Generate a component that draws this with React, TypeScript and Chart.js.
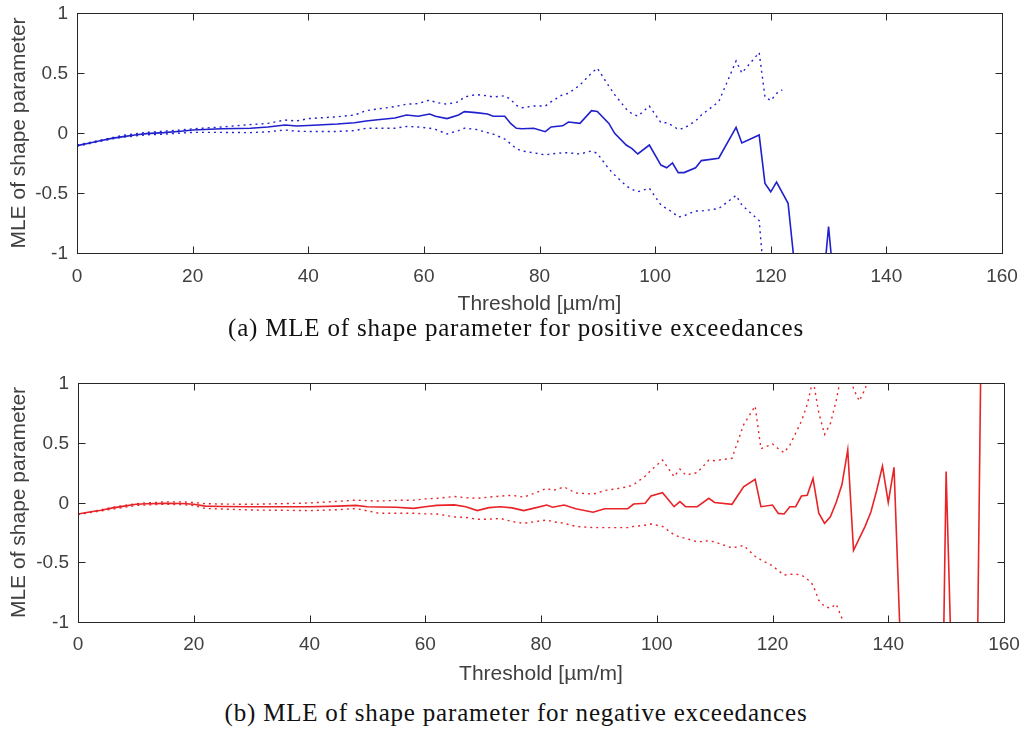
import { useEffect, useRef } from 'react';
import { Chart, registerables } from 'chart.js';

Chart.register(...registerables);

// ---------- axis ticks ----------
const xTicks = [0, 20, 40, 60, 80, 100, 120, 140, 160];
const xTickLabels = ['0', '20', '40', '60', '80', '100', '120', '140', '160'];
const yTicks = [-1, -0.5, 0, 0.5, 1];
const yTickLabels = ['-1', '-0.5', '0', '0.5', '1'];

const xTitle = 'Threshold [\u00b5m/m]';
const yTitle = 'MLE of shape parameter';
const captionA = '(a) MLE of shape parameter for positive exceedances';
const captionB = '(b) MLE of shape parameter for negative exceedances';

// ---------- (a) positive exceedances ----------
const posThreshold = [
  0, 2, 4, 6, 8, 10, 12, 15, 18, 20,
  25, 30, 33, 36, 38, 40, 45, 48, 50, 52,
  55, 57, 59, 61, 62, 64, 66, 67, 69, 71,
  72, 74, 75, 76, 77, 79, 81, 82, 84, 85,
  87, 89, 90, 92, 93, 95, 96, 97, 99, 101,
  102, 103, 104, 105, 107, 108, 111, 114, 115, 118,
  119, 120, 121, 122, 123, 124, 125, 129, 130, 131,
];
const posMle = [
  -0.105, -0.085, -0.065, -0.045, -0.03, -0.017, -0.005, 0.003, 0.015, 0.025,
  0.035, 0.04, 0.05, 0.067, 0.058, 0.063, 0.075, 0.086, 0.1, 0.11,
  0.125, 0.15, 0.14, 0.158, 0.14, 0.12, 0.15, 0.178, 0.17, 0.158,
  0.14, 0.14, 0.08, 0.039, 0.035, 0.04, 0.011, 0.05, 0.06, 0.092,
  0.08, 0.186, 0.18, 0.08, -0.003, -0.1, -0.13, -0.175, -0.1, -0.267,
  -0.29, -0.25, -0.33, -0.33, -0.29, -0.23, -0.21, 0.047, -0.083, -0.017,
  -0.42, -0.49, -0.41, null, -0.586, -1.05, -2.5, -1.3, -0.78, -1.3,
];
const posUpper = [
  -0.1, -0.08, -0.06, -0.04, -0.02, -0.008, 0.005, 0.015, 0.025, 0.035,
  0.05, 0.07, 0.08, 0.108, 0.1, 0.12, 0.135, 0.15, 0.186, 0.2,
  0.22, 0.24, 0.245, 0.275, 0.255, 0.24, 0.26, 0.3, 0.32, 0.31,
  0.3, 0.31, 0.28, 0.23, 0.21, 0.225, 0.225, 0.26, 0.32, 0.33,
  0.4, 0.5, 0.54, 0.39, 0.32, 0.2, 0.16, 0.14, 0.225, 0.086,
  0.086, 0.06, 0.03, 0.04, 0.1, 0.15, 0.26, 0.6, 0.5, 0.67,
  0.3, 0.27, 0.33, 0.36, null, null, null, null, null, null,
];
const posLower = [
  -0.11, -0.09, -0.07, -0.05, -0.035, -0.025, -0.015, -0.01, 0.0, 0.005,
  0.005, 0.003, 0.01, 0.025, 0.015, 0.013, 0.013, 0.02, 0.04, 0.04,
  0.04, 0.055, 0.05, 0.04, 0.03, -0.008, 0.02, 0.04, 0.03, 0.003,
  -0.01, -0.05, -0.09, -0.13, -0.15, -0.165, -0.183, -0.175, -0.165, -0.165,
  -0.175, -0.15, -0.17, -0.3, -0.35, -0.44, -0.47, -0.49, -0.46, -0.6,
  -0.63, -0.66, -0.7, -0.69, -0.65, -0.65, -0.63, -0.52, -0.6, -0.73,
  -1.3, null, null, null, null, null, null, null, null, null,
];

// ---------- (b) negative exceedances ----------
const negThreshold = [
  0, 2, 4, 6, 8, 10, 12, 15, 18, 20,
  22, 25, 30, 35, 40, 45, 48, 50, 52, 55,
  58, 60, 62, 65, 67, 69, 71, 73, 75, 77,
  79, 81, 82, 84, 86, 89, 91, 93, 95, 96,
  98, 99, 101, 103, 104, 105, 107, 109, 110, 113,
  115, 117, 118, 120, 121, 122, 123, 124, 125, 126,
  127, 128, 129, 130, 131, 132, 133, 134, 135, 136,
  137, 138, 139, 140, 141, 142, 149, 150, 151, 155,
  156,
];
const negMle = [
  -0.096, -0.08, -0.065, -0.045, -0.03, -0.015, -0.01, -0.007, -0.008, -0.015,
  -0.03, -0.033, -0.035, -0.035, -0.035, -0.03, -0.024, -0.035, -0.038, -0.04,
  -0.049, -0.035, -0.024, -0.02, -0.035, -0.068, -0.043, -0.035, -0.045, -0.068,
  -0.045, -0.021, -0.04, -0.021, -0.052, -0.082, -0.052, -0.052, -0.052, -0.013,
  -0.007, 0.054, 0.082, -0.035, 0.007, -0.035, -0.035, 0.035, 0.0, -0.015,
  0.132, 0.194, -0.035, -0.021, -0.091, -0.096, -0.035, -0.035, 0.054, 0.06,
  0.2, -0.09, -0.174, -0.12, 0.0, 0.15, 0.44, -0.4, -0.3, -0.2,
  -0.08, 0.1, 0.305, 0.0, 0.294, -1.05, -3, 0.26, -1.5, -3,
  1.2,
];
const negUpper = [
  -0.1, -0.08, -0.06, -0.04, -0.025, -0.01, -0.003, 0.005, 0.005, 0.0,
  -0.01, -0.013, -0.015, -0.01, -0.004, 0.01, 0.02, 0.015, 0.012, 0.018,
  0.02, 0.03, 0.035, 0.05, 0.04, 0.035, 0.045, 0.054, 0.06, 0.045,
  0.08, 0.12, 0.1, 0.13, 0.08, 0.07, 0.1, 0.115, 0.132, 0.15,
  0.22, 0.27, 0.355, 0.216, 0.28, 0.23, 0.25, 0.355, 0.35, 0.37,
  0.65, 0.807, 0.45, 0.49, 0.45, 0.417, 0.48, 0.58, 0.68, 0.82,
  1.03, 0.75, 0.57, 0.66, 0.85, 1.1, 1.2, 0.95, 0.85, 0.95,
  1.1, null, null, null, null, null, null, null, null, null,
  null,
];
const negLower = [
  -0.1, -0.085, -0.07, -0.055, -0.04, -0.025, -0.02, -0.015, -0.018, -0.025,
  -0.05, -0.055, -0.063, -0.065, -0.068, -0.06, -0.05, -0.07, -0.09, -0.09,
  -0.09, -0.095, -0.096, -0.12, -0.125, -0.14, -0.14, -0.133, -0.16, -0.174,
  -0.16, -0.146, -0.16, -0.174, -0.2, -0.21, -0.21, -0.21, -0.21, -0.2,
  -0.19, -0.18, -0.2, -0.27, -0.29, -0.3, -0.33, -0.32, -0.33, -0.38,
  -0.36, -0.45, -0.48, -0.53, -0.57, -0.607, -0.6, -0.6, -0.607, -0.64,
  -0.69, -0.82, -0.87, -0.885, -0.85, -0.97, -1.2, null, null, null,
  null, null, null, null, null, null, null, null, null, null,
  null,
];

const BLUE = 'rgb(32, 32, 205)';
const RED = 'rgb(232, 36, 40)';
const TEXT = '#404040';
const FONT = "'Liberation Sans', Arial, sans-serif";

type PanelProps = {
  top: number;
  thr: number[];
  mle: (number | null)[];
  upper: (number | null)[];
  lower: (number | null)[];
  color: string;
  areaLeft: number;
  areaRight: number;
  areaTop: number;
  areaBottom: number;
  xLabelOffset: number;
  height: number;
};

function makeFramePlugin(xLabelOffset: number) {
  return {
    id: 'frameTicks',
    afterDatasetsDraw(chart: any) {
      const { ctx, chartArea, scales } = chart;
      const { left, right, top, bottom } = chartArea;
      const x = scales.x;
      const y = scales.y;
      const L = Math.round(left) + 0.5;
      const R = Math.round(right) + 0.5;
      const T = Math.round(top) + 0.5;
      const B = Math.round(bottom) + 0.5;
      ctx.save();
      ctx.strokeStyle = '#262626';
      ctx.lineWidth = 1;
      ctx.beginPath();
      const tl = 7;
      xTicks.forEach((v) => {
        const px = Math.round(x.getPixelForValue(v)) + 0.5;
        ctx.moveTo(px, B);
        ctx.lineTo(px, B - tl);
        ctx.moveTo(px, T);
        ctx.lineTo(px, T + tl);
      });
      yTicks.forEach((v) => {
        const py = Math.round(y.getPixelForValue(v)) + 0.5;
        ctx.moveTo(L, py);
        ctx.lineTo(L + tl, py);
        ctx.moveTo(R, py);
        ctx.lineTo(R - tl, py);
      });
      ctx.stroke();
      ctx.strokeRect(L, T, R - L, B - T);

      // tick labels
      ctx.fillStyle = TEXT;
      ctx.font = `19px ${FONT}`;
      ctx.textBaseline = 'middle';
      ctx.textAlign = 'center';
      xTicks.forEach((v, i) => {
        ctx.fillText(xTickLabels[i], x.getPixelForValue(v), bottom + xLabelOffset);
      });
      ctx.textAlign = 'right';
      yTicks.forEach((v, i) => {
        ctx.fillText(yTickLabels[i], left - 9, y.getPixelForValue(v) + 1);
      });
      ctx.restore();
    },
  };
}

function Panel(props: PanelProps) {
  const ref = useRef<HTMLCanvasElement | null>(null);
  useEffect(() => {
    if (!ref.current) return;
    const { thr, mle, upper, lower, color, areaLeft, areaRight, areaTop, areaBottom, xLabelOffset, height } = props;
    const toPts = (vals: (number | null)[]) => thr.map((t, i) => ({ x: t, y: vals[i] }));
    const xScaleHeight = height - areaBottom - 3;
    const chart = new Chart(ref.current, {
      type: 'line',
      data: {
        datasets: [
          {
            data: toPts(upper) as any,
            borderColor: color,
            borderWidth: 1.4,
            borderDash: [2, 4],
            pointRadius: 0,
            tension: 0,
            spanGaps: true,
          },
          {
            data: toPts(lower) as any,
            borderColor: color,
            borderWidth: 1.4,
            borderDash: [2, 4],
            pointRadius: 0,
            tension: 0,
            spanGaps: true,
          },
          {
            data: toPts(mle) as any,
            borderColor: color,
            borderWidth: 1.6,
            pointRadius: 0,
            tension: 0,
            spanGaps: true,
          },
        ],
      },
      options: {
        animation: false,
        responsive: false,
        maintainAspectRatio: false,
        events: [],
        layout: {
          padding: { left: 0, top: areaTop, right: 1024 - areaRight, bottom: 3 },
        },
        plugins: {
          legend: { display: false },
          tooltip: { enabled: false },
          title: { display: false },
        },
        scales: {
          x: {
            type: 'linear',
            min: 0,
            max: 160,
            grid: { display: false, drawTicks: false },
            border: { display: false },
            afterBuildTicks: (scale: any) => {
              scale.ticks = xTicks.map((v) => ({ value: v }));
            },
            afterFit: (scale: any) => {
              scale.height = xScaleHeight;
            },
            ticks: { display: false },
            title: {
              display: true,
              text: xTitle,
              color: TEXT,
              font: { family: FONT, size: 21 },
              padding: { top: 0, bottom: 0 },
            },
          },
          y: {
            type: 'linear',
            min: -1,
            max: 1,
            grid: { display: false, drawTicks: false },
            border: { display: false },
            afterBuildTicks: (scale: any) => {
              scale.ticks = yTicks.map((v) => ({ value: v }));
            },
            afterFit: (scale: any) => {
              scale.width = areaLeft;
            },
            ticks: { display: false },
            title: {
              display: true,
              text: yTitle,
              color: TEXT,
              font: { family: FONT, size: 21 },
              padding: { top: 7, bottom: 0 },
            },
          },
        },
      },
      plugins: [makeFramePlugin(xLabelOffset)],
    });
    return () => chart.destroy();
  }, []);
  return (
    <div style={{ position: 'absolute', left: 0, top: props.top, width: 1024, height: props.height }}>
      <canvas ref={ref} width={1024} height={props.height} style={{ display: 'block', width: 1024, height: props.height }} />
    </div>
  );
}

const captionStyle = (centerY: number): any => ({
  position: 'absolute',
  left: 0,
  width: 1032,
  top: centerY - 15,
  height: 30,
  lineHeight: '30px',
  textAlign: 'center',
  fontFamily: "'Liberation Serif', 'Times New Roman', serif",
  fontSize: 25,
  letterSpacing: '0.8px',
  color: '#111',
  whiteSpace: 'nowrap',
});

export default function App() {
  return (
    <div style={{ position: 'absolute', left: 0, top: 0, width: 1024, height: 736, background: '#fff', overflow: 'hidden' }}>
      <Panel
        top={0}
        height={320}
        thr={posThreshold}
        mle={posMle}
        upper={posUpper}
        lower={posLower}
        color={BLUE}
        areaLeft={77}
        areaRight={1002}
        areaTop={13}
        areaBottom={253}
        xLabelOffset={24}
      />
      <div style={captionStyle(328)}>{captionA}</div>
      <Panel
        top={370}
        height={320}
        thr={negThreshold}
        mle={negMle}
        upper={negUpper}
        lower={negLower}
        color={RED}
        areaLeft={78}
        areaRight={1004}
        areaTop={13}
        areaBottom={252}
        xLabelOffset={23}
      />
      <div style={captionStyle(713)}>{captionB}</div>
    </div>
  );
}
